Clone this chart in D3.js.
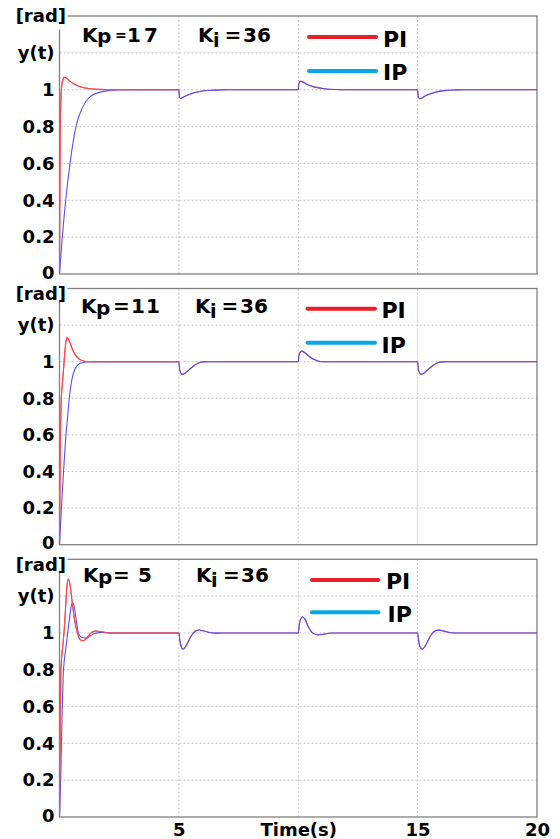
<!DOCTYPE html>
<html>
<head>
<meta charset="utf-8">
<script src="https://cdn.jsdelivr.net/npm/d3@7"></script>
<style>
  html, body { margin: 0; padding: 0; background: #fff; }
  svg { display: block; font-family: "DejaVu Sans", Verdana, sans-serif; font-weight: bold; }
</style>
</head>
<body>
<svg id="chart" width="560" height="839"></svg>
<script>
// ---- data -------------------------------------------------------------
const timeTicks = [5, 10, 15, 20];
const timeTickLabels = ["5", "Time(s)", "15", "20"];
const yTicks = [0, 0.2, 0.4, 0.6, 0.8, 1, 1.2, 1.4];
const yTickLabels = ["0", "0.2", "0.4", "0.6", "0.8", "1", "y(t)", "[rad]"];
const kpValues = [17, 11, 5];
const kiValue = 36;
const legendNames = ["PI", "IP"];

// step responses [t, y] for 0..5 s
const piRise17 = [[0,0],[0.01,0.35],[0.03,0.78],[0.06,0.95],[0.1,1.03],[0.16,1.06],[0.22,1.067],[0.3,1.062],[0.45,1.045],[0.65,1.028],[0.9,1.015],[1.2,1.007],[1.6,1.002],[2.2,1.0],[5,1.0]];
const ipRise17 = [[0,0],[0.05,0.09],[0.117,0.2],[0.26,0.4],[0.44,0.6],[0.69,0.8],[0.95,0.9],[1.28,0.962],[1.7,0.987],[2.1,0.996],[2.6,1.0],[5,1.0]];
const piRise11 = [[0,0],[0.03,0.5],[0.07,0.78],[0.12,0.88],[0.17,0.96],[0.21,1.03],[0.26,1.1],[0.31,1.13],[0.37,1.125],[0.45,1.1],[0.55,1.065],[0.65,1.04],[0.8,1.017],[1.0,1.004],[1.2,1.0],[5,1.0]];
const ipRise11 = [[0,0],[0.08,0.2],[0.17,0.4],[0.27,0.6],[0.34,0.7],[0.41,0.8],[0.5,0.89],[0.65,0.96],[0.85,0.99],[1.2,1.0],[5,1.0]];
const piRise5 = [[0,0],[0.02,0.35],[0.04,0.65],[0.06,0.8],[0.13,0.92],[0.2,1.02],[0.26,1.15],[0.31,1.25],[0.37,1.293],[0.43,1.27],[0.52,1.18],[0.62,1.08],[0.75,1.0],[0.87,0.963],[1.0,0.958],[1.13,0.97],[1.3,0.998],[1.5,1.01],[1.7,1.008],[2.0,1.001],[2.4,1.0],[5,1.0]];
const ipRise5 = [[0,0],[0.03,0.12],[0.05,0.2],[0.09,0.45],[0.13,0.66],[0.16,0.78],[0.27,0.92],[0.38,1.04],[0.46,1.12],[0.54,1.165],[0.62,1.14],[0.7,1.07],[0.79,1.0],[0.9,0.978],[1.11,0.972],[1.3,0.985],[1.5,0.998],[1.8,1.003],[2.2,1.0],[5,1.0]];

// load-disturbance responses [t, y] for 5..20 s (same for PI and IP)
const load17 = [[5,1],[5.02,0.965],[5.06,0.952],[5.12,0.955],[5.3,0.967],[5.6,0.982],[6.0,0.993],[6.5,0.998],[7,1],[10,1],[10.02,1.03],[10.08,1.045],[10.15,1.044],[10.35,1.03],[10.7,1.014],[11.1,1.005],[11.6,1.001],[12,1],[15,1],[15.02,0.965],[15.08,0.951],[15.15,0.954],[15.35,0.968],[15.7,0.985],[16.1,0.995],[16.6,0.999],[17,1],[20,1]];
const load11 = [[5,1],[5.03,0.96],[5.1,0.935],[5.16,0.931],[5.25,0.936],[5.4,0.953],[5.6,0.975],[5.8,0.992],[6.0,0.999],[6.3,1.0],[10,1],[10.03,1.035],[10.1,1.055],[10.15,1.058],[10.25,1.052],[10.4,1.035],[10.6,1.016],[10.8,1.005],[11.0,1.0],[15,1],[15.03,0.96],[15.1,0.935],[15.17,0.931],[15.25,0.936],[15.4,0.953],[15.6,0.975],[15.8,0.992],[16.0,0.999],[16.3,1.0],[20,1]];
const load5 = [[5,1],[5.04,0.96],[5.1,0.925],[5.18,0.912],[5.28,0.925],[5.4,0.955],[5.55,0.99],[5.7,1.01],[5.85,1.016],[6.0,1.012],[6.3,1.002],[6.6,0.999],[7,1],[10,1],[10.04,1.04],[10.1,1.075],[10.18,1.088],[10.28,1.075],[10.42,1.035],[10.6,1.0],[10.83,0.989],[11.05,0.993],[11.4,1.0],[15,1],[15.04,0.96],[15.1,0.925],[15.2,0.912],[15.3,0.925],[15.42,0.955],[15.57,0.99],[15.72,1.01],[15.9,1.015],[16.1,1.01],[16.4,1.001],[16.8,1.0],[20,1]];

const piRises = [piRise17, piRise11, piRise5];
const ipRises = [ipRise17, ipRise11, ipRise5];
const loads = [load17, load11, load5];

// ---- layout -----------------------------------------------------------
const plotLeft = 59.5, plotRight = 537;
const panelTop = [16, 288.5, 559.3];
const panelBottom = [274, 544.7, 817];
const unitLabelDy = [0, 5, 5];
const zeroLabelDy = -1.5;
const kpPos = [
  {k: 82, sub: 97, eq: 115, eqSize: 14, eqDy: -1.5, val: 127, ls: 3},
  {k: 81, sub: 96, eq: 113, eqSize: 20, eqDy: 0, val: 131, ls: 1},
  {k: 83, sub: 98, eq: 113, eqSize: 20, eqDy: 0, val: 138, ls: 0}
];
const kiPos = [{k: 198, sub: 213, eq: 224.5, val: 243}, {k: 195, sub: 210, eq: 221.5, val: 240}, {k: 196, sub: 211, eq: 223, val: 241}];
const kBase = [25.7, 24.8, 23];
const legendTextBase = [[30.5, 64], [29.8, 64.2], [30, 62.4]];
const legendLineY = [[21, 55], [20.2, 54.2], [20.7, 53]];
const legendLineX = [[309, 376], [307.5, 375], [312, 378.3]];
const legendTextX = [[383, 383], [381.5, 381.5], [386, 387.5]];

const colPI = "#ff4a4a", colIP = "#5252ff";
const legendCols = ["#ec1f28", "#07a7e7"];

const svg = d3.select("#chart");
const x = d3.scaleLinear().domain([0, 20]).range([plotLeft, plotRight]);

const line = (y) => d3.line().x(d => x(d[0])).y(d => y(d[1])).curve(d3.curveMonotoneX);

kpValues.forEach((kp, i) => {
  const top = panelTop[i], bottom = panelBottom[i];
  const y = d3.scaleLinear().domain([0, 1.4]).range([bottom, top]);
  const g = svg.append("g");

  // dotted grid
  g.append("g").selectAll("line").data(yTicks.filter(v => v > 0 && v < 1.4)).join("line")
    .attr("x1", plotLeft).attr("x2", plotRight).attr("y1", d => y(d)).attr("y2", d => y(d))
    .attr("stroke", "#c4c4c4").attr("stroke-width", 1).attr("stroke-dasharray", "2,2");
  g.append("g").selectAll("line").data(timeTicks.filter(v => v < 20)).join("line")
    .attr("y1", top).attr("y2", bottom).attr("x1", d => x(d)).attr("x2", d => x(d))
    .attr("stroke", "#c4c4c4").attr("stroke-width", 1).attr("stroke-dasharray", "2,2");

  // frame
  g.append("rect").attr("x", plotLeft).attr("y", top)
    .attr("width", plotRight - plotLeft).attr("height", bottom - top)
    .attr("fill", "none").attr("stroke", "#808080").attr("stroke-width", 1.3);

  // responses
  const piFull = piRises[i].concat(loads[i].slice(1));
  const ipFull = ipRises[i].concat(loads[i].slice(1));
  g.append("path").datum(piFull).attr("d", line(y))
    .attr("fill", "none").attr("stroke", colPI).attr("stroke-width", 1.1);
  g.append("path").datum(ipFull).attr("d", line(y))
    .attr("fill", "none").attr("stroke", colIP).attr("stroke-width", 1.1);
  g.append("path").datum(piRises[i]).attr("d", line(y))
    .attr("fill", "none").attr("stroke", colPI).attr("stroke-width", 1.1);

  // y axis labels
  const yAxis = d3.axisLeft(y).tickValues(yTicks).tickSize(0).tickPadding(5)
    .tickFormat((d, j) => yTickLabels[j]);
  const ax = g.append("g").attr("transform", `translate(${plotLeft},0)`).call(yAxis);
  ax.select(".domain").remove();
  ax.selectAll("text").attr("font-size", 18).attr("font-family", "DejaVu Sans")
    .attr("font-weight", "bold").attr("fill", "#000");
  ax.selectAll(".tick").filter(d => d === 0).select("text").attr("y", zeroLabelDy);
  // unit label sits over the frame corner on a small white patch
  const unitTick = ax.selectAll(".tick").filter(d => d === 1.4);
  unitTick.insert("rect", "text").attr("x", -3).attr("y", -3).attr("width", 11).attr("height", 16).attr("fill", "#fff");
  unitTick.select("text").attr("x", 6.5).attr("y", unitLabelDy[i]);

  // gain labels
  const gl = g.append("g").attr("font-family", "DejaVu Sans").attr("font-weight", "bold").attr("fill", "#000");
  const by = top + kBase[i];
  const kp_ = kpPos[i], ki_ = kiPos[i];
  gl.append("text").attr("x", kp_.k).attr("y", by).attr("font-size", 20).text("K");
  gl.append("text").attr("x", kp_.sub).attr("y", by + 1.5).attr("font-size", 20).text("p");
  gl.append("text").attr("x", kp_.eq).attr("y", by + kp_.eqDy).attr("font-size", kp_.eqSize).text("=");
  gl.append("text").attr("x", kp_.val).attr("y", by).attr("font-size", 20).attr("letter-spacing", kp_.ls).text(kp);
  gl.append("text").attr("x", ki_.k).attr("y", by).attr("font-size", 20).text("K");
  gl.append("text").attr("x", ki_.sub).attr("y", by + 5).attr("font-size", 19).text("i");
  gl.append("text").attr("x", ki_.eq).attr("y", by).attr("font-size", 20).text("=");
  gl.append("text").attr("x", ki_.val).attr("y", by).attr("font-size", 20).text(kiValue);

  // legend
  legendNames.forEach((name, j) => {
    g.append("line").attr("x1", legendLineX[i][0]).attr("x2", legendLineX[i][1])
      .attr("y1", top + legendLineY[i][j]).attr("y2", top + legendLineY[i][j])
      .attr("stroke", legendCols[j]).attr("stroke-width", 4).attr("stroke-linecap", "round");
    g.append("text").attr("x", legendTextX[i][j]).attr("y", top + legendTextBase[i][j])
      .attr("font-size", 22).attr("font-family", "DejaVu Sans").attr("font-weight", "bold")
      .attr("fill", "#000").text(name);
  });

  // time axis on the lowest panel
  if (i === kpValues.length - 1) {
    const xAxis = d3.axisBottom(x).tickValues(timeTicks).tickSize(0).tickPadding(6)
      .tickFormat((d, j) => timeTickLabels[j]);
    const xa = g.append("g").attr("transform", `translate(0,${bottom})`).call(xAxis);
    xa.select(".domain").remove();
    xa.selectAll("text").attr("font-size", 18).attr("font-family", "DejaVu Sans")
      .attr("font-weight", "bold").attr("fill", "#000");
  }
});
</script>
</body>
</html>
